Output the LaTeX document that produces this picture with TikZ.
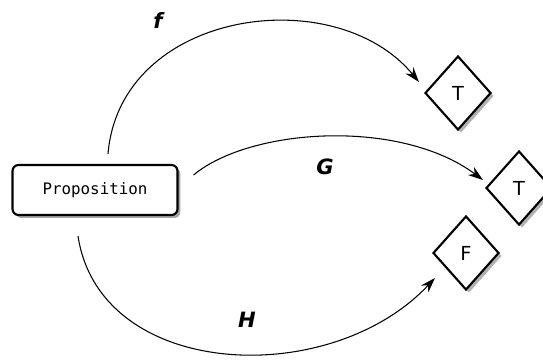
\documentclass[tikz,border=0pt]{standalone}
\usepackage{fontspec}
\setsansfont{DejaVu Sans}
\setmonofont{DejaVu Sans Mono}
\usetikzlibrary{shapes.geometric, shadows, arrows.meta}
\begin{document}
\begin{tikzpicture}[x=0.02cm, y=-0.02cm,
    propbox/.style={draw, line width=1.2pt, rounded corners=0.12cm, fill=white, minimum width=3.3cm, minimum height=1cm, font=\ttfamily\fontsize{9}{10}\selectfont, drop shadow={shadow xshift=0.06cm, shadow yshift=-0.06cm, fill=black!35, opacity=1}},
    truth/.style={draw, diamond, line width=1.2pt, fill=white, minimum width=1.32cm, minimum height=1.48cm, inner sep=0pt, font=\sffamily\fontsize{11}{12}\selectfont, drop shadow={shadow xshift=0.06cm, shadow yshift=-0.06cm, fill=black!30, opacity=1}},
    map/.style={-{Stealth[length=0.3cm, width=0.2cm]}, line width=0.6pt},
    lbl/.style={font=\sffamily\bfseries\itshape\fontsize{12}{14}\selectfont}]
  \useasboundingbox (0,0) rectangle (543,364);
  % nodes
  \node[propbox] (prop) at (95,190) {Proposition};
  \node[truth] (t1) at (458,93) {T};
  \node[truth] (t2) at (519,188) {T};
  \node[truth] (f1) at (466,253) {F};
  % mappings
  \draw[map] ([shift={(13,-10)}]prop.north) .. controls (120,10) and (335,-20) .. ([shift={(-5,-11)}]t1.west);
  \draw[map] ([shift={(15,-15)}]prop.east) .. controls (250,128) and (400,118) .. ([shift={(-2,-8)}]t2.west);
  \draw[map] ([shift={(-17,20)}]prop.south) .. controls (100,380) and (330,390) .. ([shift={(3,25)}]f1.west);
  % labels
  \node[lbl] (lf) at (158,20) {f};
  \node[lbl] (lg) at (325,167) {G};
  \node[lbl] (lh) at (247,320) {H};
\end{tikzpicture}
\end{document}
